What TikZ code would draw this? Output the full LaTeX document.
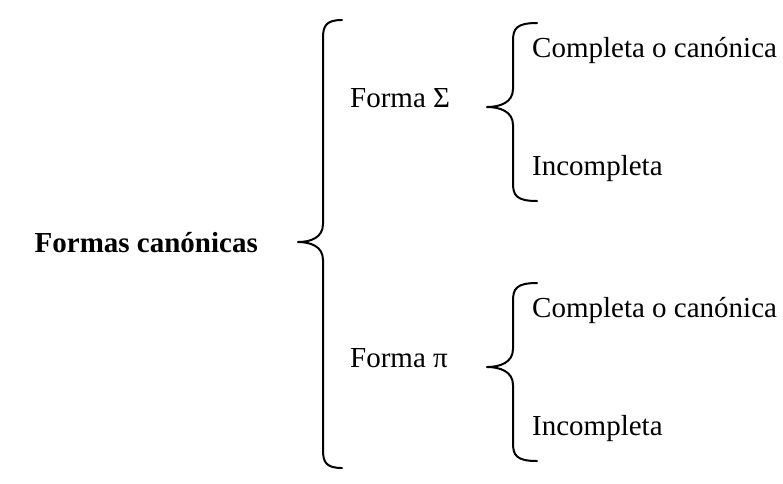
\documentclass[tikz,border=0pt]{standalone}
\usepackage{fontspec}
\setmainfont{Liberation Serif}
\begin{document}
\begin{tikzpicture}[x=1pt,y=-1pt,
  label/.style={inner sep=0pt, font=\fontsize{29}{34}\selectfont},
  title/.style={inner sep=0pt, font=\fontsize{29}{34}\selectfont\bfseries},
  bracepath/.style={draw=black, line width=2pt, line cap=round, line join=round}]
\useasboundingbox (0,0) rectangle (783,483);

% left-facing curly brace: #1 spine x, #2 tip x, #3 top y, #4 tip y, #5 bottom y, #6 hook x
\newcommand{\curlybrace}[6]{%
  \draw[bracepath] (#6,#3) .. controls (#1+3,#3) and (#1,#3+6) .. (#1,#3+18)
    -- (#1,#4-18) .. controls (#1,#4-4) and (#2+12,#4) .. (#2,#4)
    .. controls (#2+12,#4) and (#1,#4+4) .. (#1,#4+18)
    -- (#1,#5-18) .. controls (#1,#5-6) and (#1+3,#5) .. (#6,#5);}

% root
\node[title, anchor=base east] (root) at (258,252) {Formas canónicas};
\curlybrace{323}{298}{20}{242}{468}{342}

% sum-of-products branch
\node[label, anchor=base west] (sigma) at (350,107) {Forma Σ};
\curlybrace{513}{487}{23}{107}{201}{537}
\node[label, anchor=base west] (sigmaA) at (532,57) {Completa o canónica};
\node[label, anchor=base west] (sigmaB) at (532,175) {Incompleta};

% product-of-sums branch
\node[label, anchor=base west] (pi) at (350,367) {Forma π};
\curlybrace{513}{487}{283}{367}{461}{537}
\node[label, anchor=base west] (piA) at (532,317) {Completa o canónica};
\node[label, anchor=base west] (piB) at (532,435) {Incompleta};
\end{tikzpicture}
\end{document}
